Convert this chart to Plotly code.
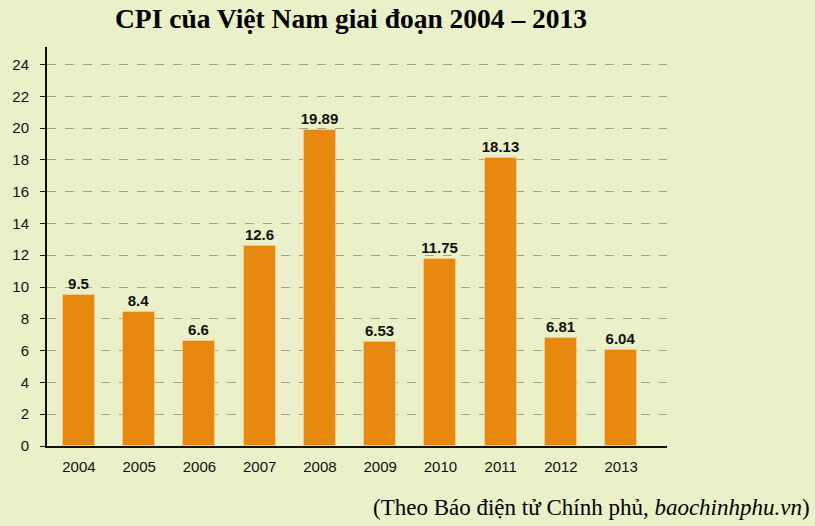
import plotly.graph_objects as go

years = ["2004", "2005", "2006", "2007", "2008", "2009", "2010", "2011", "2012", "2013"]
cpi = [9.5, 8.4, 6.6, 12.6, 19.89, 6.53, 11.75, 18.13, 6.81, 6.04]
y_ticks = list(range(0, 25, 2))

bg = "#EAF0C8"
bar_color = "#E8890F"

W, H = 815, 526
ML, MR, MT, MB = 45, 148, 47, 80

fig = go.Figure()
fig.add_trace(go.Bar(
    x=list(range(len(years))),
    y=cpi,
    width=0.53,
    marker=dict(color=bar_color, line=dict(color="#F2C98A", width=1)),
    text=[str(v) for v in cpi],
    textposition="outside",
    constraintext="none",
    textfont=dict(family="Liberation Sans, Arial", size=15, color="#111111", weight="bold"),
    cliponaxis=False,
    hoverinfo="skip",
))

plot_w = W - ML - MR
plot_h = H - MT - MB

fig.update_layout(
    width=W, height=H,
    paper_bgcolor=bg, plot_bgcolor=bg,
    margin=dict(l=ML, r=MR, t=MT, b=MB),
    showlegend=False,
    bargap=0,
    font=dict(family="Liberation Sans, Arial", size=15, color="#111111"),
    xaxis=dict(
        tickmode="array", tickvals=list(range(len(years))), ticktext=years,
        range=[-0.53, 9.76], showgrid=False, zeroline=False,
        showline=True, linecolor="#111111", linewidth=2,
        ticks="", tickfont=dict(size=15), ticklabelstandoff=6,
    ),
    yaxis=dict(
        range=[0, 25.1], tickvals=y_ticks, showgrid=True,
        gridcolor="#A0A090", griddash="dash", gridwidth=1,
        zeroline=False, showline=True, linecolor="#111111", linewidth=2,
        ticks="outside", ticklen=5, tickcolor="#111111", tickwidth=1,
        tickfont=dict(size=15), ticklabelstandoff=8,
    ),
    annotations=[
        dict(text="<b>CPI của Việt Nam giai đoạn 2004 – 2013</b>",
             x=(350 - ML) / plot_w, y=(H - MB - 18) / plot_h,
             xanchor="center", yanchor="middle",
             xref="paper", yref="paper", showarrow=False,
             font=dict(family="Liberation Serif, Times New Roman", size=27.5, color="#000000")),
        dict(text="(Theo Báo điện tử Chính phủ, <i>baochinhphu.vn</i>)",
             x=(812 - ML) / plot_w, y=(H - MB - 507) / plot_h,
             xanchor="right", yanchor="middle",
             xref="paper", yref="paper", showarrow=False,
             font=dict(family="Liberation Serif, Times New Roman", size=23, color="#000000")),
    ],
)

fig.write_html("out.html",
               config={"displayModeBar": False},
               post_script="document.body.style.margin='0';document.body.style.padding='0';document.body.style.overflow='hidden';")
